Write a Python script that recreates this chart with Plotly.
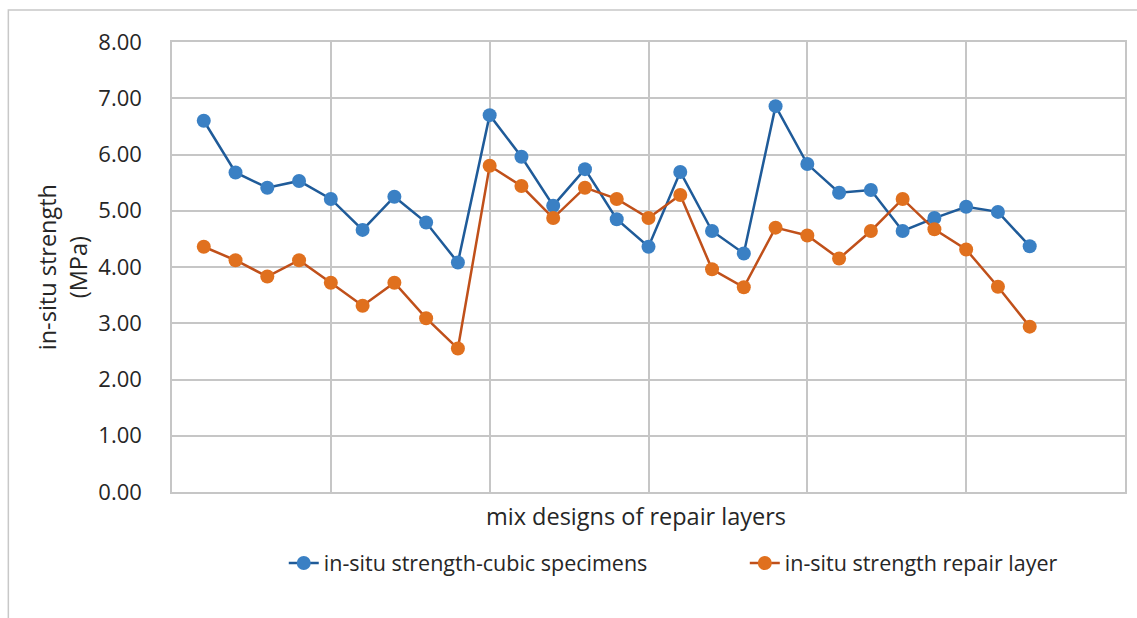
import plotly.graph_objects as go

# Mix design index (27 mixes)
mix_index = list(range(1, 28))

# In-situ strength (MPa)
cubic_specimens = [6.60, 5.68, 5.41, 5.53, 5.21, 4.66, 5.25, 4.79, 4.08,
                   6.70, 5.96, 5.09, 5.74, 4.85, 4.36, 5.69, 4.64, 4.24,
                   6.86, 5.83, 5.32, 5.37, 4.64, 4.87, 5.07, 4.98, 4.37]
repair_layer = [4.36, 4.12, 3.83, 4.12, 3.72, 3.31, 3.72, 3.09, 2.55,
                5.80, 5.44, 4.87, 5.41, 5.21, 4.87, 5.28, 3.96, 3.64,
                4.70, 4.56, 4.15, 4.64, 5.21, 4.67, 4.31, 3.65, 2.94]

y_ticks = [0, 1, 2, 3, 4, 5, 6, 7, 8]
y_tick_text = [f"{v:.2f}" for v in y_ticks]

FONT = "'Open Sans', Lato, sans-serif"
TEXT = "#262626"
GRID = "#c6c6c6"
PLOT_W, PLOT_H, PLOT_L, PLOT_B = 955, 450, 172, 492


def px_x(p):
    return (p - PLOT_L) / PLOT_W


def px_y(p):
    return (PLOT_B - p) / PLOT_H


fig = go.Figure()
fig.add_trace(go.Scatter(
    x=mix_index, y=cubic_specimens, mode="lines+markers",
    name="in-situ strength-cubic specimens", legend="legend",
    line=dict(color="#1f5b99", width=2.5),
    marker=dict(color="#3a80c4", size=14, line=dict(width=0)),
))
fig.add_trace(go.Scatter(
    x=mix_index, y=repair_layer, mode="lines+markers",
    name="in-situ strength repair layer", legend="legend2",
    line=dict(color="#c0501a", width=2.5),
    marker=dict(color="#e0701e", size=14, line=dict(width=0)),
))

legend_style = dict(
    orientation="h", xanchor="left", yanchor="middle", y=px_y(563),
    font=dict(family=FONT, size=21.5, color=TEXT),
    bgcolor="rgba(0,0,0,0)",
)

fig.update_layout(
    width=1137, height=618,
    margin=dict(l=172, r=10, t=42, b=126),
    paper_bgcolor="white", plot_bgcolor="white",
    font=dict(family=FONT, color=TEXT, size=22),
    showlegend=True,
    legend=dict(x=px_x(284), **legend_style),
    legend2=dict(x=px_x(746), **legend_style),
    xaxis=dict(
        range=[0, 30], tick0=0, dtick=5, showticklabels=False,
        showgrid=True, gridcolor=GRID, gridwidth=1.5,
        showline=True, mirror=True, linecolor=GRID, linewidth=1.5,
        zeroline=False, ticks="",
    ),
    yaxis=dict(
        range=[0, 8], tickvals=y_ticks, ticktext=y_tick_text,
        showgrid=True, gridcolor=GRID, gridwidth=1.5,
        showline=True, mirror=True, linecolor=GRID, linewidth=1.5,
        zeroline=False, ticks="", ticklabelstandoff=24,
        tickfont=dict(family=FONT, size=22, color=TEXT),
    ),
)

# X-axis title
fig.add_annotation(
    text="mix designs of repair layers",
    xref="paper", yref="paper", x=px_x(637), y=px_y(516),
    xanchor="center", yanchor="middle", showarrow=False,
    font=dict(family=FONT, size=23.5, color=TEXT),
)

# Y-axis title on two lines
fig.add_annotation(
    text="in-situ strength<br>(MPa)", textangle=-90,
    xref="paper", yref="paper", x=px_x(62), y=0.5,
    xanchor="center", yanchor="middle", showarrow=False,
    font=dict(family=FONT, size=23.5, color=TEXT),
)

# Chart-area frame
fig.add_shape(
    type="rect", xref="paper", yref="paper",
    x0=px_x(8), x1=1.03, y0=-0.4, y1=px_y(10),
    line=dict(color="#c8c8c8", width=1.5), fillcolor="rgba(0,0,0,0)",
    layer="below",
)

fig.write_html("out.html")
